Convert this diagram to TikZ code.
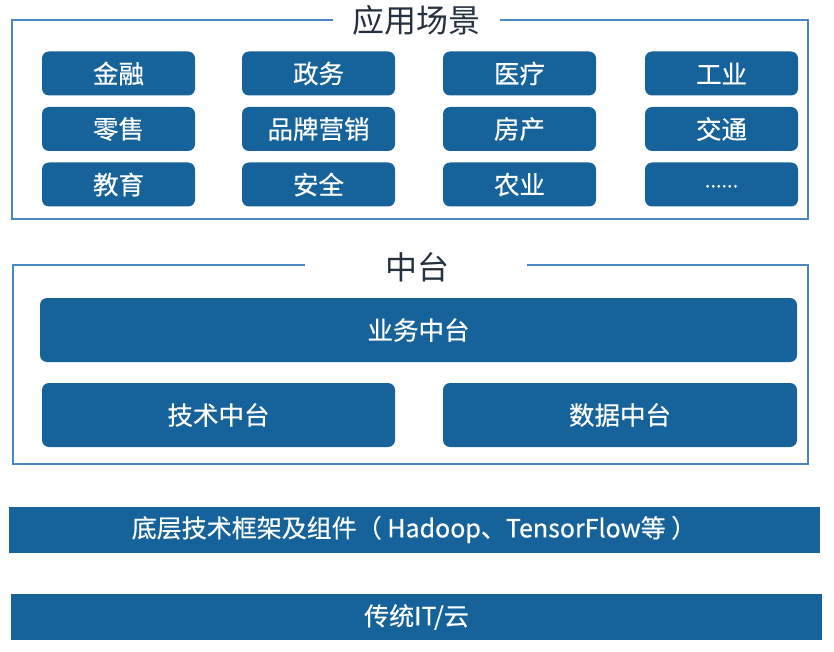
\documentclass[tikz,border=0pt]{standalone}
\usepackage{fontspec}
\setmainfont{Noto Sans CJK SC}
\setsansfont{Noto Sans CJK SC}
\newfontfamily\tilefont[FakeBold=0.4]{Noto Sans CJK SC}
\usepackage{tikz}
\usetikzlibrary{positioning}
\definecolor{boxblue}{HTML}{16629A}
\definecolor{frameblue}{HTML}{4A86C3}
\definecolor{titlegray}{HTML}{25313F}
\tikzset{
  tile/.style={fill=boxblue, text=white, rounded corners=7pt, inner sep=0pt,
    minimum width=153pt, minimum height=44pt, font=\tilefont\fontsize{25.5}{28}\selectfont},
  wide/.style={tile, minimum height=64pt},
  bar/.style={fill=boxblue, text=white, inner sep=0pt, minimum width=811pt,
    minimum height=46pt, font=\tilefont\fontsize{25}{28}\selectfont},
  frameline/.style={draw=frameblue, line width=1.5pt},
  heading/.style={text=titlegray, inner sep=0pt, font=\fontsize{32}{36}\selectfont}
}
\begin{document}
\begin{tikzpicture}[x=1pt,y=-1pt]
  \useasboundingbox (0,0) rectangle (834,652);
  % application scenarios
  \node[heading] (app) at (416,20) {应用场景};
  \draw[frameline] (333,20) -- (12,20) -- (12,219) -- (808,219) -- (808,20) -- (500,20);
  \node[tile] (jinrong) at (118.5,73.5) {金融};
  \node[tile] (zhengwu) at (318.5,73.5) {政务};
  \node[tile] (yiliao) at (519.5,73.5) {医疗};
  \node[tile] (gongye) at (721.5,73.5) {工业};
  \node[tile] (lingshou) at (118.5,129) {零售};
  \node[tile] (pinpai) at (318.5,129) {品牌营销};
  \node[tile] (fangchan) at (519.5,129) {房产};
  \node[tile] (jiaotong) at (721.5,129) {交通};
  \node[tile] (jiaoyu) at (118.5,184.5) {教育};
  \node[tile] (anquan) at (318.5,184.5) {安全};
  \node[tile] (nongye) at (519.5,184.5) {农业};
  \node[tile] (more) at (721.5,184.5) {\raisebox{-6pt}{\fontsize{20}{20}\selectfont ......}};
  % middle platform
  \node[heading] (zt) at (417,267) {中台};
  \draw[frameline] (305,265) -- (13,265) -- (13,464) -- (808,464) -- (808,265) -- (527,265);
  \node[wide, minimum width=757pt] (yewu) at (418.5,330) {业务中台};
  \node[wide, minimum width=353pt] (jishu) at (218.5,415) {技术中台};
  \node[wide, minimum width=354pt] (shuju) at (620,415) {数据中台};
  % bottom layers
  \node[bar] (dicheng) at (414,529.5) {底层技术框架及组件（ Hadoop、TensorFlow等 ）};
  \node[bar] (chuantong) at (416.5,617) {传统IT/云};
\end{tikzpicture}
\end{document}
